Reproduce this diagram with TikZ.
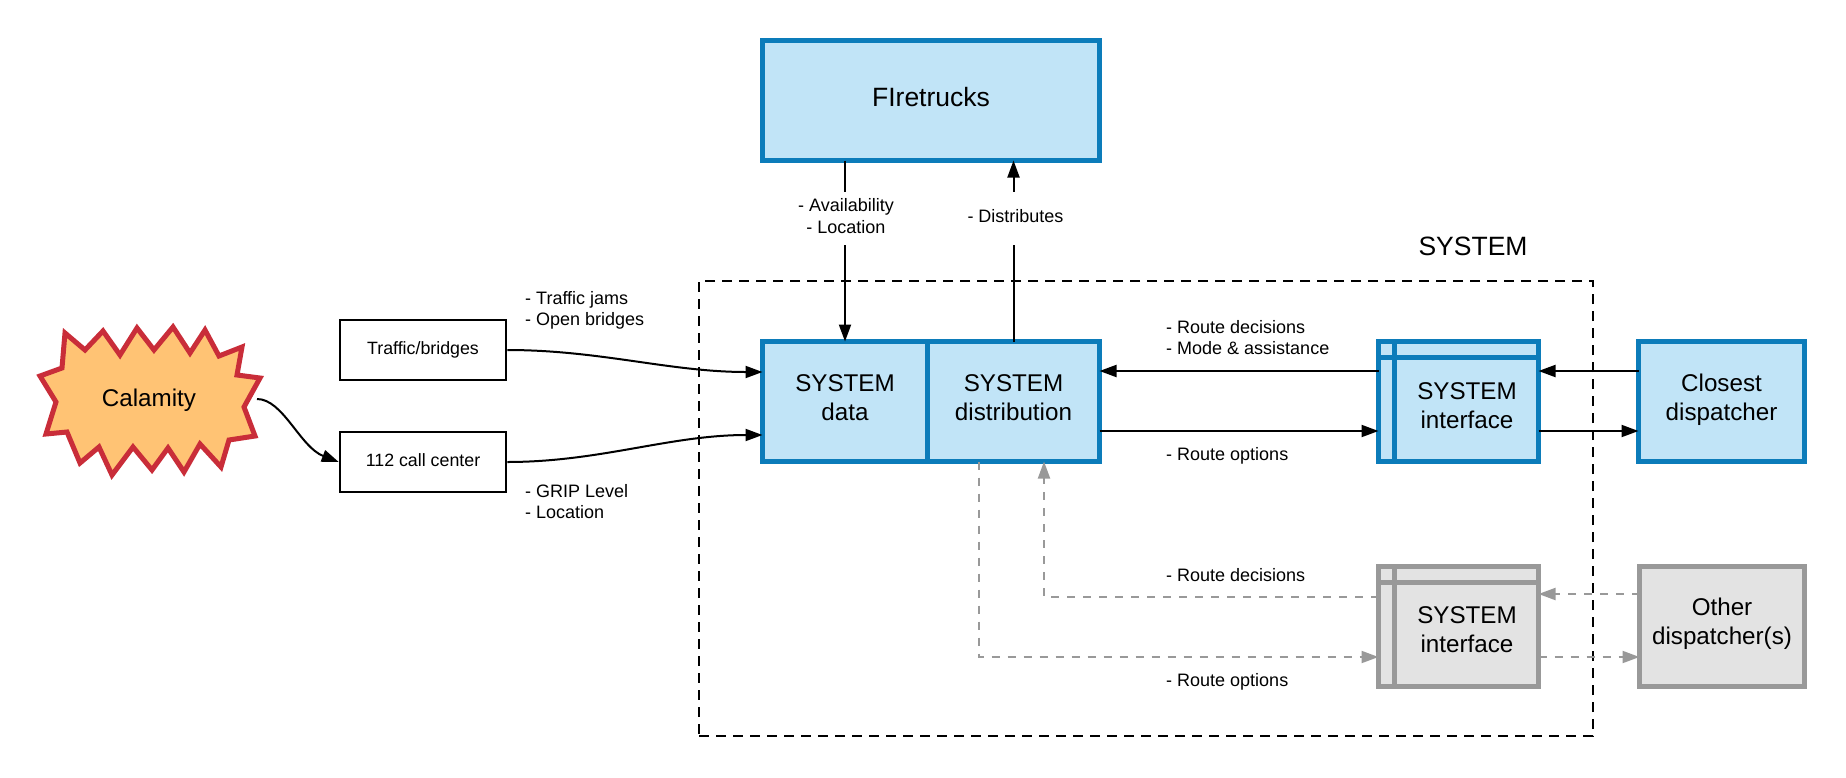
\documentclass[tikz,border=0pt]{standalone}
\usepackage{fontspec}
\setmainfont{Liberation Sans}
\usetikzlibrary{arrows.meta}
\definecolor{sysblue}{HTML}{0C7CBA}
\definecolor{sysfill}{HTML}{C1E4F7}
\definecolor{sysgray}{HTML}{999999}
\definecolor{grayfill}{HTML}{E3E3E3}
\definecolor{calamred}{HTML}{C92D39}
\definecolor{calamfill}{HTML}{FFC374}
\tikzset{
    bluebox/.style={draw=sysblue, fill=sysfill, line width=5pt, outer sep=0pt, minimum height=120pt, align=center, inner sep=0pt, font=\fontsize{24.2}{29}\selectfont},
    graybox/.style={bluebox, draw=sysgray, fill=grayfill},
    plainbox/.style={draw, line width=2.5pt, minimum width=166pt, minimum height=60pt, align=center, inner sep=0pt, font=\fontsize{17.8}{21}\selectfont},
    boxtext/.style={align=center, inner sep=0pt, font=\fontsize{24.2}{29}\selectfont},
    note/.style={align=left, anchor=west, inner sep=0pt, font=\fontsize{18}{21.6}\selectfont},
    linknote/.style={align=center, fill=white, inner sep=0pt, minimum height=53pt, font=\fontsize{18}{21.6}\selectfont},
    flow/.style={-{Triangle[length=17pt,width=12pt]}, line width=2pt},
    grayflow/.style={flow, draw=sysgray, dash pattern=on 8pt off 8pt},
}
\begin{document}
\begin{tikzpicture}[x=1pt, y=-1pt]
    \useasboundingbox (0, 0) rectangle (1846, 777);

    \node[draw, dashed, line width=2pt, dash pattern=on 10pt off 7pt, minimum width=894pt, minimum height=455pt] (sysframe) at (1146, 508.5) {};
    \node[boxtext, font=\fontsize{26.5}{31}\selectfont] (systitle) at (1473, 246) {SYSTEM};

    \draw[draw=calamred, fill=calamfill, line width=5pt]
        (65,333) -- (85,350) -- (103,331) -- (120,355) -- (137,328) -- (154,350)
        -- (173,327) -- (190,353) -- (205,330) -- (219,356) -- (242,347) -- (237,375)
        -- (260,378) -- (244,407) -- (255,436) -- (229,440) -- (221,467) -- (200,444)
        -- (184,472) -- (168,448) -- (152,470) -- (133,447) -- (112,475) -- (99,447)
        -- (80,463) -- (67,432) -- (46,434) -- (56,402) -- (40,376) -- (62,368) -- cycle;
    \node[boxtext] (calamity) at (149, 400) {Calamity};
    \coordinate (calamityout) at (257, 399);

    \node[plainbox] (traffic) at (423, 350) {Traffic/bridges};
    \node[plainbox] (callcenter) at (423, 462) {112 call center\\[-17pt]};

    \node[bluebox, minimum width=337pt, font=\fontsize{26.5}{31}\selectfont] (firetrucks) at (931, 100.5) {FIretrucks\\[-24pt]};
    \node[bluebox, minimum width=165pt] (sysdata) at (845, 401.5) {SYSTEM\\data\\[-21pt]};
    \node[bluebox, minimum width=172pt] (sysdist) at (1013.5, 401.5) {SYSTEM\\distribution\\[-21pt]};
    \node[bluebox, minimum width=160pt] (ifaceclosest) at (1458.5, 401.5) {};
    \node[bluebox, minimum width=166pt] (closest) at (1721.5, 401.5) {Closest\\dispatcher\\[-20pt]};
    \node[graybox, minimum width=160pt] (ifaceother) at (1458.5, 626.5) {};
    \node[graybox, minimum width=165pt] (other) at (1722, 626.5) {Other\\dispatcher(s)\\[-18pt]};

    \foreach \boxname/\boxcol in {ifaceclosest/sysblue, ifaceother/sysgray} {
        \draw[\boxcol, line width=5pt] ([xshift=15.5pt]\boxname.north west) -- ([xshift=15.5pt]\boxname.south west);
        \draw[\boxcol, line width=5pt] ([yshift=-15.5pt]\boxname.north west) -- ([yshift=-15.5pt]\boxname.north east);
    }
    \node[boxtext] (ifaceclosesttext) at (1467, 405.5) {SYSTEM\\interface};
    \node[boxtext] (ifaceothertext) at (1467, 629.5) {SYSTEM\\interface};

    \draw[flow] (calamityout) .. controls (283, 399) and (300, 447) .. (callcenter.west);
    \draw[flow] (traffic.east) .. controls (600, 350) and (670, 372) .. ([yshift=29.5pt]sysdata.west);
    \draw[flow] (callcenter.east) .. controls (600, 462) and (670, 435) .. ([yshift=-33.5pt]sysdata.west);

    \draw[flow] (firetrucks.south -| sysdata.north) -- node[linknote, pos=0.32, xshift=1pt] (availnote) {- Availability\\- Location\\[-16.6pt]} (sysdata.north);
    \draw[flow] (sysdist.north) -- node[linknote, pos=0.68, xshift=2pt] (distnote) {- Distributes\\[-16.6pt]} (firetrucks.south -| sysdist.north);

    \draw[flow] ([yshift=30.5pt]ifaceclosest.west) -- ([yshift=30.5pt]sysdist.east);
    \draw[flow] ([yshift=-29.5pt]sysdist.east) -- ([yshift=-29.5pt]ifaceclosest.west);
    \draw[flow] ([yshift=30.5pt]closest.west) -- ([yshift=30.5pt]ifaceclosest.east);
    \draw[flow] ([yshift=-29.5pt]ifaceclosest.east) -- ([yshift=-29.5pt]closest.west);

    \draw[grayflow] ([yshift=29.5pt]ifaceother.west) -| ([xshift=30.5pt]sysdist.south);
    \draw[grayflow] ([xshift=-34.5pt]sysdist.south) |- ([yshift=-30.5pt]ifaceother.west);
    \draw[grayflow] ([yshift=32.5pt]other.west) -- ([yshift=32.5pt]ifaceother.east);
    \draw[grayflow] ([yshift=-30.5pt]ifaceother.east) -- ([yshift=-30.5pt]other.west);

    \node[note] (trafficnote) at (525, 310.5) {- Traffic jams\\- Open bridges};
    \node[note] (gripnote) at (525, 501.5) {- GRIP Level\\- Location};
    \node[note] (decisionnote) at (1166, 337.5) {- Route decisions\\- Mode \& assistance};
    \node[note] (optionnote) at (1166, 455.5) {- Route options};
    \node[note] (otherdecisionnote) at (1166, 575) {- Route decisions};
    \node[note] (otheroptionnote) at (1166, 682) {- Route options};
\end{tikzpicture}
\end{document}
